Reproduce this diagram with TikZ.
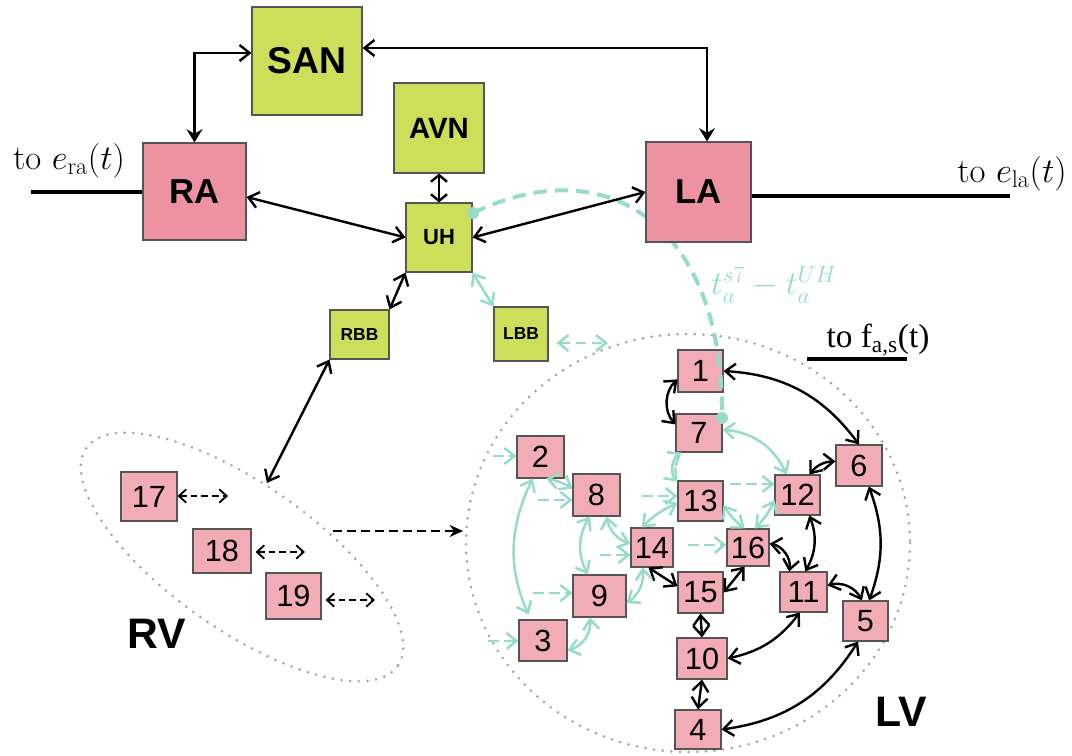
\RequirePackage{fix-cm}
\documentclass[tikz,border=0pt]{standalone}
\usepackage{fontspec}
\newfontfamily\sansA{Liberation Sans}
\newfontfamily\serifT{Liberation Serif}
\usetikzlibrary{arrows.meta,calc}
\definecolor{grn}{RGB}{205,222,90}
\definecolor{pinkA}{RGB}{236,146,160}
\definecolor{pinkB}{RGB}{241,172,182}
\definecolor{teal2}{RGB}{150,220,200}
\definecolor{bord}{RGB}{85,85,85}
\definecolor{dotg}{RGB}{165,165,165}
\begin{document}
\begin{tikzpicture}[x=0.75pt,y=-0.75pt,
  box/.style 2 args={draw=bord, line width=0.8pt, inner sep=0pt, minimum width={#1*0.75pt}, minimum height={#2*0.75pt}},
  gbox/.style={fill=grn},
  abox/.style={fill=pinkA},
  lv/.style={fill=pinkB, font=\sansA\fontsize{23}{23}\selectfont},
  >={Straight Barb[length=7.5pt,width=12pt]},
  blk/.style={draw=black, line width=1.8pt, <->},
  tl/.style={draw=teal2, line width=1.9pt, <->},
  tld/.style={draw=teal2, line width=1.9pt, ->, dash pattern=on 8pt off 4pt},
  bkd/.style={draw=black, line width=1.4pt, <->, dash pattern=on 5pt off 3pt, >={Straight Barb[length=5.5pt,width=10pt]}},
  dotline/.style={draw=dotg, line width=2.2pt, line cap=round, dash pattern=on 0pt off 6.5pt},
]
\useasboundingbox (0,0) rectangle (1072,756);

% dotted regions
\draw[dotline, rotate around={-35:(242,557)}] (242,557) ellipse [x radius=190, y radius=73];
\draw[dotline] (688,543) ellipse [x radius=222, y radius=209];

% the teal timing curve (drawn below the boxes)
\coordinate (dA) at (473,213);
\coordinate (dB) at (722,418);
\draw[teal2, line width=3pt, dash pattern=on 10pt off 6pt] (dA) .. controls (615,145) and (725,235) .. (dB);

% top nodes
\node[box={110}{108},gbox,font=\sansA\bfseries\fontsize{28}{28}\selectfont] (san) at (307,61) {SAN};
\node[box={90}{90},gbox,font=\sansA\bfseries\fontsize{22}{22}\selectfont] (avn) at (439,128) {AVN};
\node[box={103}{97},abox,font=\sansA\bfseries\fontsize{26}{26}\selectfont] (ra) at (194.5,191.5) {RA};
\node[box={66}{69},gbox,font=\sansA\bfseries\fontsize{16.5}{16.5}\selectfont] (uh) at (439,237.5) {UH};
\node[box={105}{100},abox,font=\sansA\bfseries\fontsize{26}{26}\selectfont] (la) at (698.5,192) {LA};
\node[box={59}{49},gbox,font=\sansA\bfseries\fontsize{13}{13}\selectfont] (rbb) at (359.5,334.5) {RBB};
\node[box={54}{54},gbox,font=\sansA\bfseries\fontsize{13}{13}\selectfont] (lbb) at (521,334) {LBB};

% RV nodes
\node[box={56}{49},lv] (n17) at (149,496.5) {17};
\node[box={58}{44},lv] (n18) at (222,551) {18};
\node[box={55}{46},lv] (n19) at (293.5,596) {19};

% LV nodes
\node[box={45}{42},lv] (n1) at (700.5,371) {1};
\node[box={46}{38},lv] (n7) at (699,433) {7};
\node[box={47}{42},lv] (n2) at (540.5,457) {2};
\node[box={47}{42},lv] (n8) at (596.5,495) {8};
\node[box={45}{40},lv] (n13) at (700.5,501) {13};
\node[box={45}{40},lv] (n12) at (797.5,495) {12};
\node[box={46}{41},lv] (n6) at (859,465.5) {6};
\node[box={42}{39},lv] (n14) at (652,547.5) {14};
\node[box={42}{37},lv] (n16) at (748,547.5) {16};
\node[box={45}{41},lv] (n15) at (700.5,592.5) {15};
\node[box={53}{42},lv] (n9) at (599.5,596) {9};
\node[box={47}{40},lv] (n11) at (803.5,592) {11};
\node[box={45}{40},lv] (n5) at (865.5,621) {5};
\node[box={48}{41},lv] (n3) at (543,640.5) {3};
\node[box={50}{41},lv] (n10) at (702,658.5) {10};
\node[box={46}{39},lv] (n4) at (698,729.5) {4};

% the part of the timing curve that runs over node 1, and its end dots
\begin{scope}
\clip (n1.north west) rectangle (760,430);
\draw[teal2, line width=3pt, dash pattern=on 10pt off 6pt] (dA) .. controls (615,145) and (725,235) .. (dB);
\end{scope}
\fill[teal2] (dA) circle (4.5pt);
\fill[teal2] (dB) circle (4.5pt);

% labels
\node[font=\sansA\bfseries\fontsize{32}{32}\selectfont] (rvl) at (157,634) {RV};
\node[font=\sansA\bfseries\fontsize{32}{32}\selectfont] (lvl) at (901,712) {LV};
\node[font=\fontsize{26}{26}\selectfont] (lera) at (69,161) {to $e_{\mathrm{ra}}(t)$};
\node[font=\fontsize{26}{26}\selectfont] (lela) at (1012,174) {to $e_{\mathrm{la}}(t)$};
\node[font=\serifT\fontsize{25}{25}\selectfont] (lfas) at (878,340) {to f\textsubscript{a,s}(t)};
\node[text=teal2, font=\fontsize{25}{25}\selectfont] (tlab) at (774,285) {$t_a^{s7}-t_a^{UH}$};

% output lines
\coordinate (era) at (31,192);
\draw[line width=3.5pt] (era) -- (era -| ra.west);
\coordinate (ela) at (1010,196);
\draw[line width=3.5pt] (ela -| la.east) -- (ela);
\coordinate (fa) at (807,359);
\coordinate (fb) at (907,359);
\draw[line width=3.5pt] (fa) -- (fb);

% top connectors
\draw[blk, {Straight Barb[length=7.5pt,width=12pt]}-{Stealth[length=10pt,width=12pt,inset=3.5pt]}] ($(san.west)+(0,-8)$) -| (ra.north);
\draw[blk, {Straight Barb[length=7.5pt,width=12pt]}-{Stealth[length=10pt,width=12pt,inset=3.5pt]}] ($(san.east)+(0,-13)$) -| ($(la.north)+(8.5,0)$);
\draw[blk] (ra.-6) -- (uh.west);
\draw[blk] (uh.east) -- (la.west);
\draw[blk, {Straight Barb[length=5pt,width=12pt]}-{Straight Barb[length=5pt,width=12pt]}] (avn.south) -- (uh.north);
\draw[blk] (uh.south west) -- (rbb.north east);
\draw[tl] (uh.south east) -- (lbb.north west);
\coordinate (rvt) at (267,483);
\draw[blk] (rbb.south west) -- (rvt);
\coordinate (lbbB) at (608,343);
\draw[tl, dash pattern=on 8pt off 4pt, shorten <=6pt] ($(lbb.east)+(0,9)$) -- (lbbB);

% RV arrows
\coordinate (r17) at (228,496);
\draw[bkd] (r17 -| n17.east) -- (r17);
\coordinate (r18) at (305,552);
\draw[bkd, shorten <=3pt] (r18 -| n18.east) -- (r18);
\coordinate (r19) at (375,600);
\draw[bkd, shorten <=3pt] (r19 -| n19.east) -- (r19);
\coordinate (rvout) at (333,531);
\coordinate (lvin) at (463,531);
\draw[black, line width=1.5pt, dash pattern=on 7pt off 3.5pt, -{Stealth[length=10pt,width=9pt]}] (rvout) -- (lvin);

% LV black connectors
\draw[blk] (n1.200) to[bend right=45] (n7.160);
\draw[blk] (n1.east) to[bend left=25] (n6.north);
\draw[blk] (n6.170) to[bend right=25] (n12.60);
\draw[blk] (n6.-65) to[bend left=20] (n5.80);
\draw[blk] (n12.-60) to[bend left=25] (n11.85);
\draw[blk] (n16.10) to[bend left=45] (n11.125);
\draw[blk] (n11.15) to[bend left=40] (n5.100);
\draw[blk] (n16.260) -- (n15.east);
\draw[blk] (n14.-100) -- (n15.165);
\draw[blk] (n15.south) -- (n10.north);
\draw[blk] (n10.south) -- (n4.north);
\draw[blk] (n10.east) to[bend right=20] (n11.-100);
\draw[blk] (n4.east) to[bend right=25] (n5.-110);

% LV teal connectors
\draw[tl, shorten >=4pt] (n2.-110) to[bend right=25] (n3.120);
\draw[tl] (n2.-75) to[bend left=10] (n8.165);
\coordinate (d8) at (538,500);
\draw[tld] (d8) -- (d8 -| n8.west);
\draw[tl] (n8.-107) to[bend right=30] (n9.118);
\draw[tl] (n8.-65) to[bend right=30] (n14.170);
\coordinate (d14) at (600,555);
\draw[tld] (d14) -- (d14 -| n14.west);
\coordinate (d9) at (533,593);
\draw[tld] (d9) -- (d9 -| n9.west);
\draw[tl] (n3.-22) to[bend right=40] (n9.-114);
\draw[tl] (n9.-15) to[bend right=30] (n14.-115);
\coordinate (d13) at (642,496);
\draw[tld] (d13) -- (d13 -| n13.west);
\draw[tl] (n13.185) to[bend right=10] (n14.117);
\draw[tl] (n7.-132) to[bend right=50] (n13.140);
\draw[tl] (n7.8) to[bend left=30] (n12.118);
\coordinate (d12) at (730,484);
\draw[tld] (d12) -- (d12 -| n12.west);
\draw[tl] (n16.100) to[bend left=10] (n13.-10);
\draw[tl] (n16.70) to[bend right=10] (n12.192);
\coordinate (d16) at (688,545);
\draw[tld] (d16) -- (d16 -| n16.west);
\coordinate (d2) at (493,456);
\draw[tld] (d2) -- (d2 -| n2.west);
\coordinate (d3) at (488,641);
\draw[tld] (d3) -- (d3 -| n3.west);
\end{tikzpicture}
\end{document}
